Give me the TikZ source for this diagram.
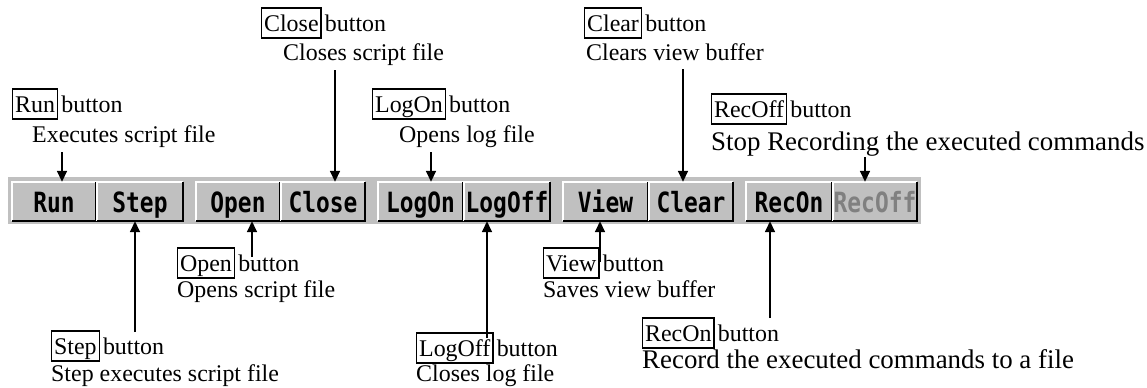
\documentclass[tikz,border=0pt]{standalone}
\usepackage{fontspec}
\setmainfont{Liberation Serif}
\newfontfamily\btnfont[FakeStretch=0.82]{DejaVu Sans Mono}
\usetikzlibrary{arrows.meta}
\definecolor{btngray}{HTML}{C0C0C0}
\definecolor{btnshadow}{HTML}{808080}
\tikzset{
  lbl/.style={font=\fontsize{24}{28}\selectfont, inner sep=0pt, anchor=base west},
  biglbl/.style={font=\fontsize{27}{30}\selectfont, inner sep=0pt, anchor=base west},
  lbox/.style={draw, line width=1.3bp, font=\fontsize{24}{28}\selectfont, inner xsep=2.5bp, inner ysep=0pt, text height=23bp, text depth=7bp, anchor=base west},
  btn/.style={fill=btngray, minimum height=39bp, inner sep=0pt, font=\btnfont\bfseries\fontsize{28}{30}\selectfont, text height=21bp, text depth=0pt},
  arr/.style={line width=1.6bp, -{Triangle[width=10bp,length=11bp]}},
}
\begin{document}
\begin{tikzpicture}[x=1bp,y=-1bp]
\useasboundingbox (0,0) rectangle (1147,387);
% toolbar background
\fill[btngray] (8,177) rectangle (921,224);
% buttons
\node[btn, minimum width=84bp] (run)    at (54,201.5)  {Run};
\node[btn, minimum width=86bp] (step)   at (140,201.5) {Step};
\node[btn, minimum width=84bp] (open)   at (238,201.5) {Open};
\node[btn, minimum width=84bp] (close)  at (323,201.5) {Close};
\node[btn, minimum width=85bp] (logon)  at (420.5,201.5) {LogOn};
\node[btn, minimum width=86bp] (logoff) at (507,201.5) {LogOff};
\node[btn, minimum width=85bp] (view)   at (605.5,201.5) {View};
\node[btn, minimum width=84bp] (clear)  at (691,201.5) {Clear};
\node[btn, minimum width=86bp] (recon)  at (789,201.5) {RecOn};
\node[btn, minimum width=84bp, text=btnshadow] (recoff) at (875,201.5) {RecOff};
\foreach \b in {run,step,open,close,logon,logoff,view,clear,recon,recoff}{
  \draw[white, line width=1.5bp] (\b.south west) -- (\b.north west) -- (\b.north east);
  \draw[black, line width=2bp] (\b.south west) -- (\b.south east) -- (\b.north east);
}
% top labels
\node[lbox] (runbox) at (12,112) {Run};
\node[lbl] (runtxt) at ([xshift=3bp]runbox.base east) {button};
\node[lbl] (rundesc) at (32,142) {Executes script file};
\coordinate (runa) at (62,152);
\draw[arr] (runa) -- (runa |- run.north);

\node[lbox] (closebox) at (261,31) {Close};
\node[lbl] (closetxt) at ([xshift=3bp]closebox.base east) {button};
\node[lbl] (closedesc) at (283,60) {Closes script file};
\coordinate (closea) at (335,70);
\draw[arr] (closea) -- (closea |- close.north);

\node[lbox] (logonbox) at (372,112) {LogOn};
\node[lbl] (logontxt) at ([xshift=3bp]logonbox.base east) {button};
\node[lbl] (logondesc) at (399,142) {Opens log file};
\coordinate (logona) at (431,152);
\draw[arr] (logona) -- (logona |- logon.north);

\node[lbox] (clearbox) at (584,31) {Clear};
\node[lbl] (cleartxt) at ([xshift=3bp]clearbox.base east) {button};
\node[lbl] (cleardesc) at (586,60) {Clears view buffer};
\coordinate (cleara) at (683,69);
\draw[arr] (cleara) -- (cleara |- clear.north);

\node[lbox] (recoffbox) at (711,117) {RecOff};
\node[lbl] (recofftxt) at ([xshift=3bp]recoffbox.base east) {button};
\node[biglbl] (recoffdesc) at (711,150) {Stop Recording the executed commands};
\coordinate (recoffa) at (865,157);
\draw[arr] (recoffa) -- (recoffa |- recoff.north);

% bottom labels
\node[lbox] (stepbox) at (51,354) {Step};
\node[lbl] (steptxt) at ([xshift=3bp]stepbox.base east) {button};
\node[lbl] (stepdesc) at (51,381) {Step executes script file};
\coordinate (stepa) at (135,332);
\draw[arr] (stepa) -- (stepa |- step.south);

\node[lbox] (openbox) at (177,271) {Open};
\node[lbl] (opentxt) at ([xshift=3bp]openbox.base east) {button};
\node[lbl] (opendesc) at (177,297) {Opens script file};
\coordinate (opena) at (252,257);
\draw[arr] (opena) -- (opena |- open.south);

\node[lbox] (logoffbox) at (416,356) {LogOff};
\node[lbl] (logofftxt) at ([xshift=3bp]logoffbox.base east) {button};
\node[lbl] (logoffdesc) at (416,381) {Closes log file};
\coordinate (logoffa) at (487,338);
\draw[arr] (logoffa) -- (logoffa |- logoff.south);

\node[lbox] (viewbox) at (543,271) {View};
\node[lbl] (viewtxt) at ([xshift=3bp]viewbox.base east) {button};
\node[lbl] (viewdesc) at (543,297) {Saves view buffer};
\coordinate (viewa) at (600,262);
\draw[arr] (viewa) -- (viewa |- view.south);

\node[lbox] (reconbox) at (642,341) {RecOn};
\node[lbl] (recontxt) at ([xshift=3bp]reconbox.base east) {button};
\node[biglbl] (recondesc) at (642,368) {Record the executed commands to a file};
\coordinate (recona) at (770,318);
\draw[arr] (recona) -- (recona |- recon.south);
\end{tikzpicture}
\end{document}
